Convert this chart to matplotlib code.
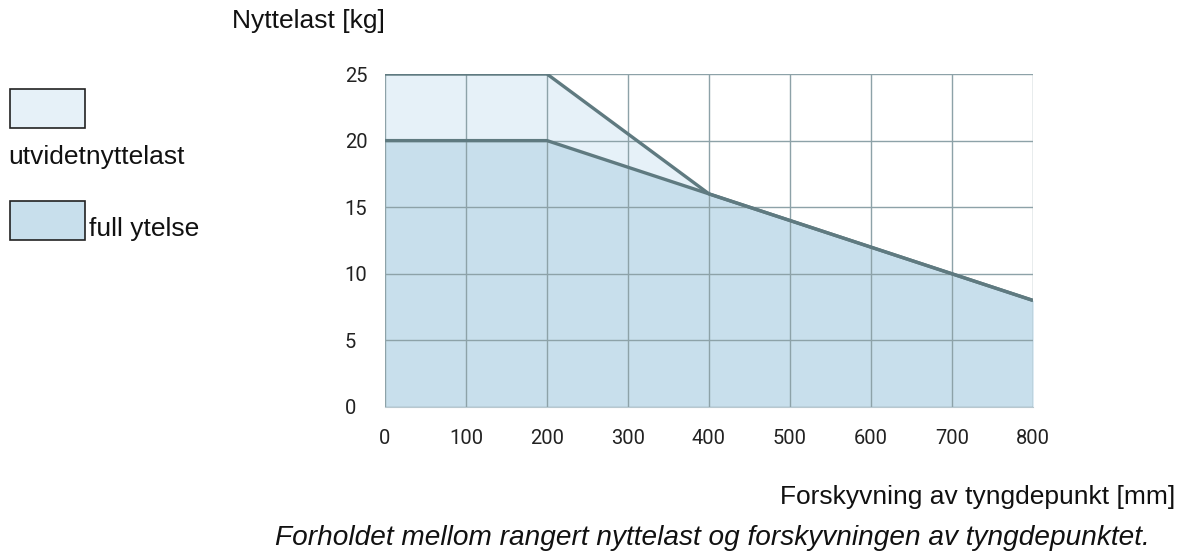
import matplotlib.pyplot as plt
from matplotlib.patches import Rectangle

# data
offset_mm = [0, 200, 400, 800]
full_load = [20, 20, 16, 8]
extended_load = [25, 25, 16, 8]
x_ticks = [0, 100, 200, 300, 400, 500, 600, 700, 800]
y_ticks = [0, 5, 10, 15, 20, 25]

c_ext = '#e6f1f8'
c_full = '#c8dfec'
c_line = '#5f7a80'
c_grid = '#8da2a8'

plt.rcParams['font.family'] = ['Liberation Sans', 'DejaVu Sans']
fs = 19

fig = plt.figure(figsize=(11.84, 5.55), dpi=100)
ax = fig.add_axes([385/1184, 1 - 407/555, 648/1184, 333/555])

ax.fill_between(offset_mm, 0, extended_load, color=c_ext, lw=0, zorder=1)
ax.fill_between(offset_mm, 0, full_load, color=c_full, lw=0, zorder=1)
ax.set_xticks(x_ticks)
ax.set_yticks(y_ticks)
ax.grid(True, color=c_grid, lw=1, zorder=2)
ax.set_axisbelow(False)
ax.plot(offset_mm, extended_load, color=c_line, lw=2.4, zorder=3, solid_capstyle='butt')
ax.plot(offset_mm, full_load, color=c_line, lw=2.4, zorder=3, solid_capstyle='butt')

ax.set_xlim(0, 800)
ax.set_ylim(0, 25)
for s in ['top', 'right', 'left']:
    ax.spines[s].set_visible(False)
ax.spines['bottom'].set_color('#b8c8cf')
ax.tick_params(length=0, labelsize=14.5, pad=16, colors='#222222')
ax.tick_params(axis='y', pad=29)
for lab in ax.get_xticklabels() + ax.get_yticklabels():
    lab.set_fontfamily('Roboto')
for lab in ax.get_yticklabels():
    lab.set_horizontalalignment('left')

# labels and caption
fig.text(232/1184, 1 - 21/555, 'Nyttelast [kg]', fontsize=fs, va='center', ha='left', color='#111111')
fig.text(1175/1184, 1 - 497/555, 'Forskyvning av tyngdepunkt [mm]', fontsize=fs,
         va='center', ha='right', color='#111111')
fig.text(1150/1184, 1 - 538/555, 'Forholdet mellom rangert nyttelast og forskyvningen av tyngdepunktet.',
         fontsize=20.2, style='italic', va='center', ha='right', color='#111111')

# legend drawn by hand on the left
fig.patches.append(Rectangle((10/1184, 1 - 128/555), 75/1184, 39/555, transform=fig.transFigure,
                             facecolor=c_ext, edgecolor='#222222', lw=1.2))
fig.text(8/1184, 1 - 157/555, 'utvidetnyttelast', fontsize=fs, va='center', ha='left', color='#111111')
fig.patches.append(Rectangle((10/1184, 1 - 240/555), 75/1184, 39/555, transform=fig.transFigure,
                             facecolor=c_full, edgecolor='#222222', lw=1.2))
fig.text(89/1184, 1 - 229/555, 'full ytelse', fontsize=fs, va='center', ha='left', color='#111111')

fig.savefig('out.png', dpi=100)
